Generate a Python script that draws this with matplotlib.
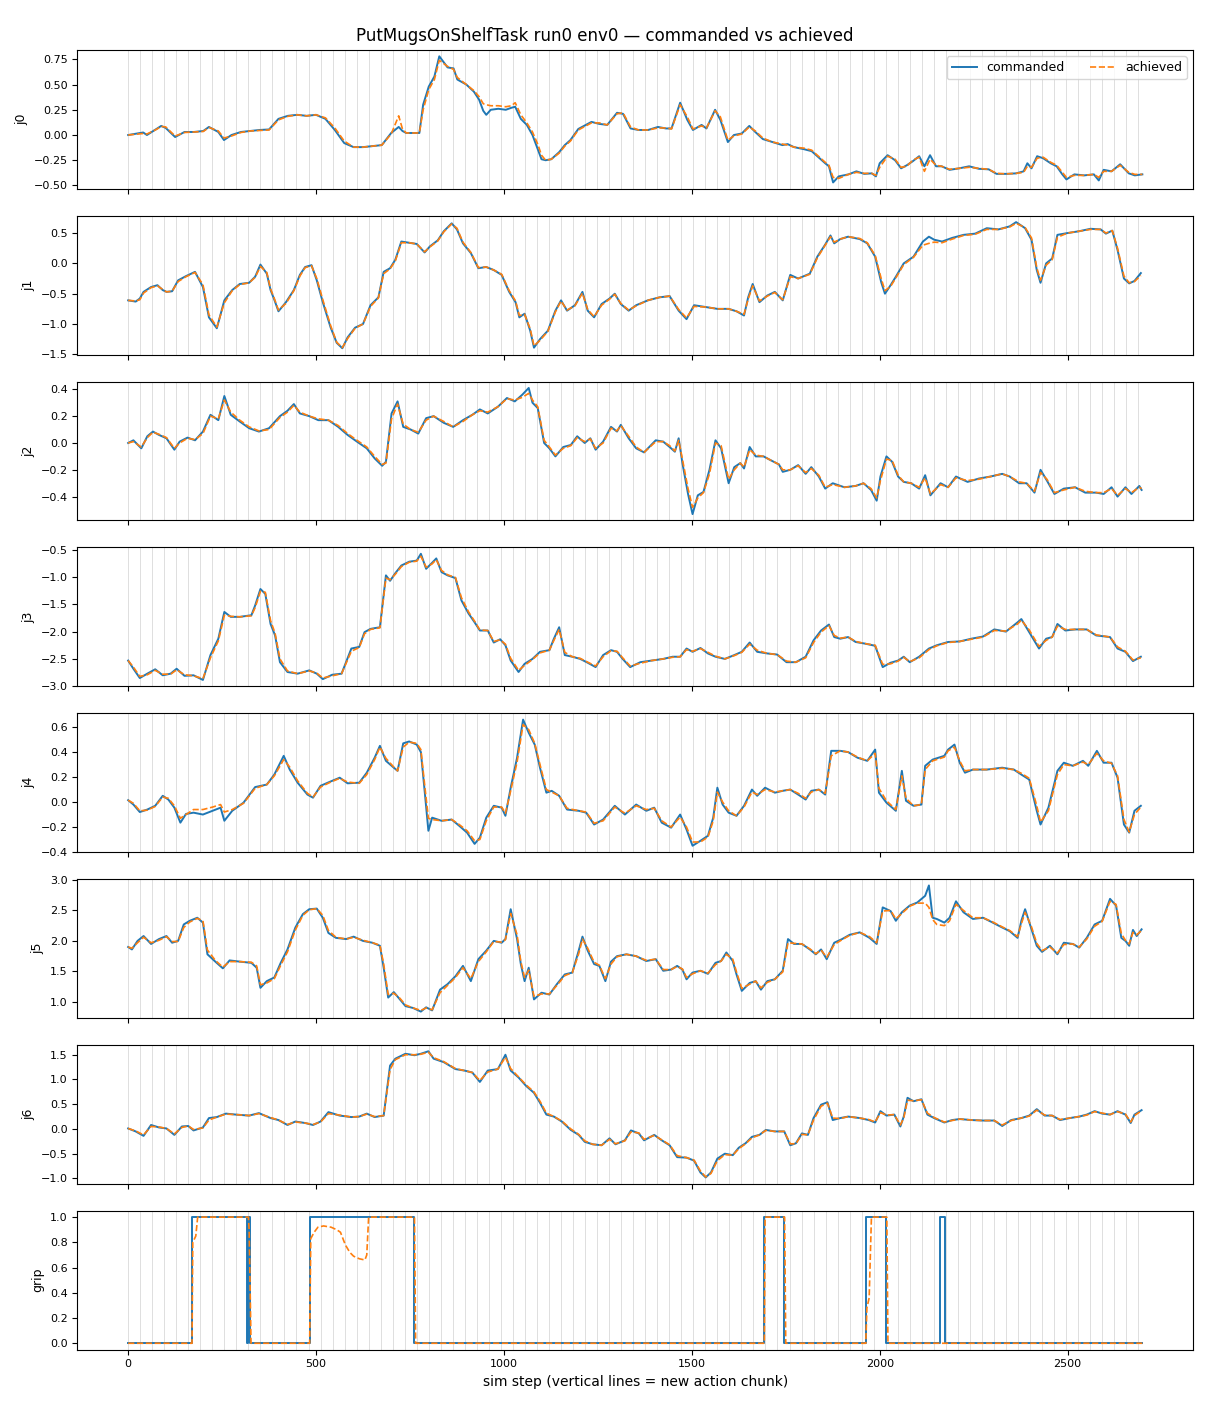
import matplotlib
matplotlib.use("Agg")
import matplotlib.pyplot as plt

TITLE = "PutMugsOnShelfTask run0 env0 \u2014 commanded vs achieved"
XLABEL = "sim step (vertical lines = new action chunk)"
CHUNK = 32
LAST_STEP = 2699

# ---- j0 ----
j0_steps = [0, 25, 40, 50, 75, 88, 100, 125, 150, 175,
            200, 215, 240, 255, 275, 300, 325, 350, 375, 400,
            425, 450, 475, 500, 525, 550, 575, 600, 625, 650,
            675, 700, 720, 730, 740, 775, 785, 800, 815, 828,
            850, 866, 876, 900, 920, 934, 945, 953, 965, 985,
            1005, 1020, 1030, 1045, 1061, 1076, 1091, 1100, 1111, 1126,
            1147, 1162, 1177, 1198, 1218, 1233, 1254, 1275, 1301, 1317,
            1337, 1358, 1384, 1410, 1431, 1446, 1469, 1488, 1503, 1526,
            1539, 1562, 1576, 1596, 1612, 1633, 1653, 1669, 1689, 1715,
            1741, 1755, 1772, 1798, 1819, 1834, 1855, 1865, 1876, 1891,
            1917, 1938, 1959, 1979, 1990, 2000, 2021, 2041, 2057, 2072,
            2088, 2105, 2119, 2134, 2150, 2165, 2186, 2212, 2238, 2264,
            2290, 2311, 2337, 2363, 2383, 2393, 2404, 2419, 2435, 2455,
            2471, 2486, 2497, 2518, 2544, 2570, 2583, 2596, 2617, 2640,
            2663, 2679, 2699]
j0_cmd = [0.00, 0.015, 0.025, 0.00, 0.06, 0.09, 0.07, -0.02, 0.03, 0.03,
          0.04, 0.08, 0.03, -0.05, 0.00, 0.03, 0.04, 0.05, 0.055, 0.16,
          0.19, 0.20, 0.19, 0.20, 0.16, 0.05, -0.08, -0.12, -0.12, -0.11,
          -0.10, 0.02, 0.08, 0.04, 0.02, 0.02, 0.30, 0.48, 0.58, 0.78,
          0.67, 0.66, 0.55, 0.50, 0.43, 0.35, 0.24, 0.20, 0.25, 0.26,
          0.25, 0.27, 0.28, 0.16, 0.10, 0.00, -0.15, -0.24, -0.25, -0.24,
          -0.17, -0.10, -0.05, 0.06, 0.10, 0.13, 0.11, 0.10, 0.22, 0.21,
          0.065, 0.05, 0.05, 0.08, 0.065, 0.065, 0.32, 0.15, 0.05, 0.10,
          0.065, 0.25, 0.15, -0.07, 0.00, 0.015, 0.09, 0.03, -0.04, -0.07,
          -0.10, -0.09, -0.12, -0.14, -0.16, -0.21, -0.28, -0.31, -0.47, -0.41,
          -0.39, -0.36, -0.385, -0.38, -0.41, -0.28, -0.20, -0.25, -0.33, -0.30,
          -0.26, -0.21, -0.31, -0.20, -0.31, -0.31, -0.345, -0.33, -0.31, -0.335,
          -0.34, -0.385, -0.385, -0.38, -0.36, -0.28, -0.33, -0.21, -0.23, -0.28,
          -0.31, -0.39, -0.44, -0.39, -0.40, -0.39, -0.45, -0.345, -0.36, -0.29,
          -0.38, -0.40, -0.39]
j0_ach = [0.00, 0.01, 0.015, 0.01, 0.055, 0.085, 0.08, -0.01, 0.025, 0.03,
          0.035, 0.075, 0.04, -0.03, -0.01, 0.025, 0.04, 0.045, 0.05, 0.15,
          0.185, 0.20, 0.19, 0.20, 0.17, 0.07, -0.06, -0.12, -0.12, -0.11,
          -0.10, 0.01, 0.19, 0.06, 0.02, 0.02, 0.25, 0.45, 0.55, 0.74,
          0.68, 0.65, 0.57, 0.50, 0.44, 0.38, 0.31, 0.30, 0.29, 0.29,
          0.28, 0.29, 0.32, 0.20, 0.12, 0.03, -0.10, -0.20, -0.25, -0.24,
          -0.18, -0.11, -0.06, 0.05, 0.09, 0.12, 0.12, 0.10, 0.21, 0.22,
          0.08, 0.05, 0.05, 0.07, 0.07, 0.06, 0.30, 0.18, 0.06, 0.09,
          0.07, 0.24, 0.18, -0.05, -0.01, 0.01, 0.08, 0.04, -0.03, -0.07,
          -0.09, -0.10, -0.12, -0.13, -0.15, -0.20, -0.27, -0.30, -0.42, -0.43,
          -0.39, -0.37, -0.38, -0.38, -0.40, -0.32, -0.21, -0.24, -0.32, -0.31,
          -0.25, -0.22, -0.36, -0.24, -0.30, -0.31, -0.34, -0.33, -0.32, -0.33,
          -0.34, -0.38, -0.385, -0.38, -0.37, -0.31, -0.32, -0.23, -0.22, -0.27,
          -0.30, -0.37, -0.42, -0.40, -0.40, -0.39, -0.42, -0.36, -0.36, -0.30,
          -0.37, -0.39, -0.39]

# ---- j1 ----
j1_steps = [0, 20, 31, 41, 61, 78, 92, 102, 117, 133,
            154, 178, 199, 215, 236, 256, 277, 297, 322, 338,
            352, 369, 379, 389, 400, 420, 441, 457, 471, 488,
            502, 518, 539, 555, 570, 584, 604, 625, 645, 666,
            680, 697, 711, 727, 748, 768, 789, 803, 824, 840,
            861, 875, 891, 912, 932, 953, 973, 994, 1014, 1031,
            1041, 1055, 1070, 1080, 1096, 1117, 1137, 1152, 1168, 1189,
            1209, 1223, 1240, 1260, 1281, 1295, 1311, 1332, 1352, 1383,
            1414, 1441, 1465, 1486, 1506, 1537, 1568, 1598, 1619, 1639,
            1650, 1662, 1680, 1701, 1721, 1742, 1762, 1783, 1814, 1834,
            1855, 1869, 1879, 1895, 1916, 1947, 1967, 1988, 2004, 2014,
            2029, 2043, 2064, 2090, 2115, 2131, 2145, 2166, 2193, 2223,
            2254, 2285, 2316, 2346, 2363, 2387, 2404, 2418, 2428, 2443,
            2459, 2473, 2500, 2531, 2561, 2588, 2602, 2619, 2633, 2650,
            2664, 2678, 2695]
j1_cmd = [-0.61, -0.63, -0.58, -0.47, -0.39, -0.36, -0.44, -0.47, -0.46, -0.28,
          -0.21, -0.14, -0.39, -0.89, -1.07, -0.61, -0.44, -0.34, -0.32, -0.22,
          -0.02, -0.17, -0.44, -0.60, -0.79, -0.64, -0.44, -0.19, -0.06, -0.03,
          -0.28, -0.64, -1.06, -1.31, -1.40, -1.22, -1.06, -1.00, -0.69, -0.56,
          -0.14, -0.08, 0.06, 0.36, 0.34, 0.32, 0.18, 0.28, 0.38, 0.53,
          0.66, 0.56, 0.33, 0.17, -0.08, -0.06, -0.11, -0.19, -0.47, -0.64,
          -0.89, -0.83, -1.11, -1.39, -1.25, -1.11, -0.78, -0.61, -0.78, -0.69,
          -0.47, -0.78, -0.89, -0.67, -0.58, -0.50, -0.67, -0.78, -0.69, -0.61,
          -0.56, -0.54, -0.78, -0.92, -0.69, -0.72, -0.75, -0.75, -0.79, -0.86,
          -0.56, -0.34, -0.64, -0.53, -0.47, -0.61, -0.19, -0.25, -0.17, 0.11,
          0.31, 0.46, 0.33, 0.40, 0.44, 0.40, 0.33, 0.11, -0.31, -0.50,
          -0.36, -0.22, 0.00, 0.11, 0.36, 0.44, 0.39, 0.36, 0.42, 0.47,
          0.49, 0.58, 0.56, 0.61, 0.68, 0.58, 0.39, -0.11, -0.32, 0.00,
          0.08, 0.47, 0.50, 0.53, 0.57, 0.56, 0.49, 0.54, 0.22, -0.25,
          -0.33, -0.29, -0.16]
j1_ach = [-0.61, -0.62, -0.60, -0.49, -0.40, -0.37, -0.43, -0.47, -0.46, -0.30,
          -0.22, -0.15, -0.35, -0.85, -1.05, -0.65, -0.45, -0.35, -0.32, -0.23,
          -0.05, -0.15, -0.42, -0.58, -0.77, -0.66, -0.45, -0.21, -0.07, -0.04,
          -0.25, -0.60, -1.03, -1.30, -1.39, -1.24, -1.07, -1.00, -0.71, -0.57,
          -0.17, -0.09, 0.04, 0.34, 0.34, 0.32, 0.19, 0.27, 0.37, 0.52,
          0.65, 0.58, 0.35, 0.18, -0.07, -0.06, -0.11, -0.18, -0.45, -0.62,
          -0.86, -0.84, -1.08, -1.36, -1.27, -1.12, -0.80, -0.62, -0.77, -0.70,
          -0.49, -0.76, -0.88, -0.69, -0.59, -0.51, -0.66, -0.77, -0.70, -0.61,
          -0.56, -0.54, -0.76, -0.90, -0.71, -0.72, -0.75, -0.75, -0.79, -0.84,
          -0.59, -0.37, -0.62, -0.54, -0.48, -0.60, -0.22, -0.25, -0.18, 0.09,
          0.30, 0.44, 0.35, 0.40, 0.44, 0.41, 0.34, 0.13, -0.25, -0.45,
          -0.38, -0.24, -0.02, 0.10, 0.30, 0.33, 0.35, 0.34, 0.40, 0.46,
          0.48, 0.56, 0.56, 0.60, 0.66, 0.59, 0.42, -0.07, -0.28, -0.03,
          0.06, 0.43, 0.50, 0.53, 0.56, 0.56, 0.50, 0.54, 0.25, -0.21,
          -0.32, -0.30, -0.20]

# ---- j2 ----
j2_steps = [0, 14, 35, 51, 66, 82, 102, 123, 137, 158,
            178, 199, 219, 240, 256, 273, 297, 322, 348, 375,
            404, 424, 441, 457, 482, 506, 533, 559, 584, 609,
            635, 656, 676, 686, 701, 717, 732, 752, 772, 793,
            813, 840, 865, 891, 916, 936, 957, 984, 1008, 1029,
            1049, 1066, 1076, 1090, 1107, 1121, 1137, 1158, 1178, 1195,
            1215, 1230, 1244, 1264, 1285, 1301, 1311, 1332, 1352, 1373,
            1404, 1424, 1441, 1455, 1465, 1475, 1490, 1502, 1516, 1531,
            1547, 1563, 1578, 1598, 1613, 1629, 1639, 1654, 1670, 1691,
            1711, 1732, 1742, 1762, 1783, 1803, 1818, 1838, 1855, 1875,
            1906, 1936, 1957, 1977, 1992, 2002, 2018, 2033, 2049, 2064,
            2084, 2105, 2121, 2135, 2162, 2182, 2203, 2234, 2264, 2295,
            2326, 2346, 2371, 2391, 2412, 2428, 2445, 2465, 2490, 2520,
            2547, 2576, 2596, 2617, 2633, 2654, 2670, 2691, 2697]
j2_cmd = [0.0, 0.02, -0.04, 0.05, 0.085, 0.06, 0.035, -0.05, 0.01, 0.04,
          0.02, 0.085, 0.21, 0.17, 0.35, 0.21, 0.16, 0.11, 0.085, 0.11,
          0.20, 0.24, 0.29, 0.22, 0.20, 0.17, 0.17, 0.12, 0.06, 0.01,
          -0.04, -0.115, -0.17, -0.14, 0.22, 0.31, 0.12, 0.10, 0.07, 0.185,
          0.20, 0.15, 0.12, 0.17, 0.21, 0.25, 0.22, 0.27, 0.335, 0.31,
          0.36, 0.41, 0.30, 0.26, 0.0, -0.04, -0.10, -0.03, -0.015, 0.05,
          0.0, 0.035, -0.05, 0.01, 0.12, 0.085, 0.135, 0.035, -0.04, -0.07,
          0.02, 0.01, -0.03, -0.065, 0.035, -0.15, -0.38, -0.53, -0.39, -0.365,
          -0.20, 0.02, -0.04, -0.30, -0.18, -0.15, -0.19, -0.03, -0.10, -0.10,
          -0.13, -0.16, -0.215, -0.20, -0.165, -0.23, -0.18, -0.25, -0.34, -0.30,
          -0.33, -0.32, -0.30, -0.35, -0.43, -0.25, -0.10, -0.14, -0.25, -0.29,
          -0.30, -0.34, -0.24, -0.39, -0.30, -0.33, -0.25, -0.29, -0.265, -0.25,
          -0.23, -0.25, -0.30, -0.30, -0.37, -0.20, -0.28, -0.38, -0.34, -0.33,
          -0.37, -0.37, -0.38, -0.33, -0.40, -0.33, -0.38, -0.32, -0.35]
j2_ach = [0.0, 0.01, -0.03, 0.04, 0.08, 0.065, 0.04, -0.04, 0.0, 0.035,
          0.025, 0.07, 0.20, 0.18, 0.32, 0.23, 0.17, 0.12, 0.09, 0.10,
          0.19, 0.23, 0.28, 0.23, 0.20, 0.18, 0.17, 0.13, 0.07, 0.02,
          -0.03, -0.10, -0.16, -0.15, 0.18, 0.29, 0.14, 0.10, 0.08, 0.17,
          0.20, 0.16, 0.12, 0.16, 0.21, 0.24, 0.23, 0.27, 0.33, 0.32,
          0.34, 0.37, 0.32, 0.27, 0.02, -0.03, -0.09, -0.04, -0.02, 0.04,
          0.01, 0.03, -0.04, 0.0, 0.11, 0.09, 0.13, 0.05, -0.03, -0.07,
          0.01, 0.01, -0.02, -0.06, 0.02, -0.12, -0.34, -0.48, -0.41, -0.37,
          -0.23, 0.0, -0.02, -0.27, -0.20, -0.15, -0.18, -0.05, -0.09, -0.10,
          -0.13, -0.16, -0.20, -0.20, -0.17, -0.22, -0.19, -0.24, -0.33, -0.31,
          -0.33, -0.32, -0.30, -0.34, -0.41, -0.28, -0.12, -0.13, -0.24, -0.29,
          -0.30, -0.33, -0.26, -0.38, -0.31, -0.33, -0.26, -0.28, -0.27, -0.25,
          -0.23, -0.25, -0.29, -0.30, -0.36, -0.22, -0.27, -0.37, -0.35, -0.33,
          -0.36, -0.37, -0.37, -0.34, -0.39, -0.34, -0.37, -0.33, -0.34]

# ---- j3 ----
j3_steps = [0, 14, 31, 51, 72, 92, 113, 129, 150, 174,
            199, 219, 240, 256, 273, 297, 328, 338, 352, 365,
            379, 391, 404, 424, 451, 482, 502, 518, 543, 568,
            594, 615, 629, 645, 670, 686, 697, 711, 727, 748,
            768, 779, 793, 809, 820, 834, 850, 871, 887, 906,
            922, 936, 957, 973, 990, 1004, 1018, 1039, 1055, 1076,
            1096, 1121, 1133, 1147, 1162, 1182, 1203, 1223, 1244, 1264,
            1285, 1301, 1316, 1336, 1363, 1393, 1424, 1449, 1469, 1486,
            1502, 1523, 1543, 1563, 1588, 1613, 1633, 1654, 1674, 1701,
            1727, 1752, 1777, 1803, 1824, 1844, 1865, 1879, 1895, 1916,
            1936, 1961, 1988, 2008, 2029, 2049, 2064, 2080, 2105, 2131,
            2152, 2182, 2213, 2244, 2275, 2305, 2336, 2367, 2377, 2398,
            2424, 2443, 2459, 2473, 2494, 2520, 2551, 2576, 2613, 2633,
            2654, 2674, 2695]
j3_cmd = [-2.53, -2.68, -2.85, -2.77, -2.69, -2.80, -2.77, -2.68, -2.81, -2.80,
          -2.885, -2.43, -2.13, -1.64, -1.73, -1.73, -1.70, -1.52, -1.22, -1.31,
          -1.86, -2.07, -2.56, -2.74, -2.77, -2.71, -2.77, -2.87, -2.79, -2.77,
          -2.31, -2.28, -2.01, -1.95, -1.92, -0.97, -1.07, -0.93, -0.79, -0.72,
          -0.70, -0.575, -0.85, -0.74, -0.66, -0.91, -0.97, -1.02, -1.43, -1.67,
          -1.83, -1.98, -1.98, -2.20, -2.14, -2.25, -2.53, -2.74, -2.59, -2.50,
          -2.37, -2.34, -2.13, -1.92, -2.43, -2.46, -2.50, -2.57, -2.65, -2.43,
          -2.34, -2.37, -2.50, -2.65, -2.56, -2.53, -2.50, -2.46, -2.46, -2.31,
          -2.37, -2.30, -2.40, -2.46, -2.50, -2.43, -2.37, -2.20, -2.37, -2.40,
          -2.42, -2.56, -2.56, -2.46, -2.16, -1.98, -1.87, -2.10, -2.13, -2.10,
          -2.19, -2.22, -2.26, -2.65, -2.57, -2.53, -2.46, -2.56, -2.46, -2.31,
          -2.25, -2.19, -2.18, -2.13, -2.09, -1.96, -2.00, -1.83, -1.77, -2.01,
          -2.31, -2.13, -2.10, -1.86, -1.98, -1.96, -1.96, -2.07, -2.10, -2.31,
          -2.37, -2.54, -2.46]
j3_ach = [-2.53, -2.65, -2.82, -2.79, -2.71, -2.78, -2.78, -2.70, -2.79, -2.81,
          -2.86, -2.48, -2.17, -1.70, -1.72, -1.73, -1.71, -1.56, -1.26, -1.28,
          -1.80, -2.03, -2.50, -2.72, -2.77, -2.72, -2.76, -2.85, -2.81, -2.77,
          -2.36, -2.29, -2.04, -1.96, -1.93, -1.02, -1.05, -0.95, -0.81, -0.73,
          -0.71, -0.62, -0.82, -0.76, -0.68, -0.88, -0.96, -1.01, -1.38, -1.64,
          -1.81, -1.97, -1.98, -2.18, -2.15, -2.23, -2.49, -2.71, -2.62, -2.51,
          -2.39, -2.34, -2.16, -1.96, -2.38, -2.46, -2.49, -2.56, -2.63, -2.46,
          -2.35, -2.36, -2.48, -2.63, -2.58, -2.53, -2.50, -2.47, -2.46, -2.33,
          -2.36, -2.31, -2.38, -2.45, -2.50, -2.44, -2.38, -2.23, -2.34, -2.40,
          -2.42, -2.54, -2.56, -2.48, -2.20, -2.01, -1.89, -2.07, -2.12, -2.10,
          -2.18, -2.22, -2.25, -2.60, -2.59, -2.54, -2.47, -2.55, -2.48, -2.33,
          -2.26, -2.20, -2.18, -2.14, -2.10, -1.98, -1.99, -1.86, -1.79, -1.97,
          -2.27, -2.16, -2.10, -1.90, -1.96, -1.96, -1.96, -2.06, -2.10, -2.28,
          -2.36, -2.52, -2.48]

# ---- j4 ----
j4_steps = [0, 14, 31, 51, 72, 92, 107, 123, 139, 154,
            174, 199, 225, 246, 256, 277, 307, 338, 369, 389,
            414, 430, 451, 477, 492, 512, 539, 563, 584, 615,
            635, 656, 670, 686, 707, 717, 732, 748, 768, 779,
            789, 799, 809, 834, 861, 881, 902, 922, 936, 953,
            973, 994, 1004, 1018, 1035, 1051, 1066, 1082, 1096, 1113,
            1127, 1147, 1168, 1199, 1219, 1240, 1264, 1295, 1322, 1352,
            1379, 1400, 1420, 1445, 1469, 1486, 1502, 1523, 1543, 1557,
            1568, 1582, 1598, 1619, 1639, 1660, 1674, 1695, 1721, 1742,
            1762, 1783, 1803, 1818, 1838, 1855, 1871, 1895, 1916, 1941,
            1967, 1988, 1998, 2018, 2043, 2059, 2070, 2090, 2111, 2121,
            2141, 2172, 2182, 2199, 2213, 2227, 2248, 2285, 2326, 2357,
            2377, 2398, 2418, 2428, 2449, 2473, 2490, 2514, 2541, 2555,
            2578, 2596, 2617, 2633, 2650, 2664, 2678, 2695]
j4_cmd = [0.015, -0.02, -0.08, -0.06, -0.03, 0.05, 0.02, -0.045, -0.165, -0.095,
          -0.085, -0.10, -0.07, -0.045, -0.15, -0.07, -0.005, 0.12, 0.14, 0.22,
          0.37, 0.26, 0.155, 0.06, 0.035, 0.13, 0.165, 0.195, 0.15, 0.155,
          0.235, 0.355, 0.45, 0.33, 0.275, 0.25, 0.47, 0.485, 0.46, 0.40,
          0.09, -0.23, -0.125, -0.15, -0.14, -0.19, -0.245, -0.335, -0.285, -0.125,
          -0.03, -0.045, -0.11, 0.115, 0.355, 0.66, 0.555, 0.46, 0.275, 0.075,
          0.09, 0.05, -0.06, -0.07, -0.085, -0.18, -0.14, -0.03, -0.10, -0.02,
          -0.07, -0.045, -0.165, -0.205, -0.10, -0.22, -0.35, -0.31, -0.27, -0.125,
          0.115, -0.02, -0.085, -0.11, -0.03, 0.10, 0.05, 0.115, 0.075, 0.09,
          0.10, 0.06, 0.02, 0.09, 0.10, 0.06, 0.41, 0.41, 0.40, 0.355,
          0.33, 0.42, 0.075, -0.005, -0.07, 0.25, 0.01, -0.03, -0.02, 0.29,
          0.34, 0.37, 0.42, 0.46, 0.315, 0.235, 0.26, 0.26, 0.275, 0.26,
          0.22, 0.18, -0.07, -0.18, -0.045, 0.25, 0.315, 0.29, 0.33, 0.29,
          0.41, 0.315, 0.315, 0.195, -0.18, -0.245, -0.07, -0.03]
j4_ach = [0.015, -0.01, -0.07, -0.065, -0.035, 0.04, 0.03, -0.03, -0.13, -0.10,
          -0.06, -0.06, -0.04, -0.02, -0.08, -0.06, -0.01, 0.11, 0.14, 0.21,
          0.34, 0.28, 0.17, 0.07, 0.04, 0.12, 0.16, 0.19, 0.16, 0.15,
          0.22, 0.34, 0.44, 0.35, 0.28, 0.25, 0.44, 0.48, 0.47, 0.42,
          0.14, -0.13, -0.14, -0.15, -0.14, -0.18, -0.23, -0.31, -0.30, -0.15,
          -0.04, -0.04, -0.09, 0.09, 0.32, 0.62, 0.58, 0.47, 0.30, 0.10,
          0.08, 0.05, -0.05, -0.07, -0.08, -0.17, -0.15, -0.04, -0.09, -0.03,
          -0.06, -0.05, -0.15, -0.20, -0.12, -0.20, -0.32, -0.32, -0.28, -0.15,
          0.08, 0.0, -0.07, -0.11, -0.04, 0.08, 0.06, 0.10, 0.08, 0.09,
          0.10, 0.07, 0.03, 0.08, 0.10, 0.07, 0.37, 0.41, 0.40, 0.36,
          0.33, 0.39, 0.11, 0.01, -0.06, 0.21, 0.03, -0.03, -0.02, 0.26,
          0.33, 0.36, 0.41, 0.44, 0.33, 0.25, 0.26, 0.26, 0.27, 0.26,
          0.23, 0.19, -0.03, -0.16, -0.07, 0.22, 0.30, 0.29, 0.32, 0.30,
          0.39, 0.33, 0.31, 0.21, -0.14, -0.24, -0.10, -0.04]

# ---- j5 ----
j5_steps = [0, 10, 25, 41, 61, 82, 102, 117, 133, 148,
            164, 184, 199, 211, 232, 252, 270, 297, 328, 342,
            352, 369, 389, 406, 424, 445, 465, 482, 502, 518,
            533, 553, 580, 600, 625, 650, 670, 680, 692, 707,
            723, 738, 758, 779, 793, 809, 830, 850, 871, 891,
            912, 932, 953, 973, 994, 1004, 1018, 1035, 1045, 1055,
            1066, 1080, 1100, 1121, 1141, 1162, 1182, 1199, 1209, 1223,
            1240, 1254, 1270, 1285, 1301, 1326, 1352, 1379, 1404, 1424,
            1445, 1461, 1475, 1486, 1502, 1523, 1543, 1563, 1578, 1592,
            1609, 1619, 1633, 1654, 1670, 1684, 1701, 1721, 1742, 1756,
            1772, 1793, 1814, 1830, 1844, 1859, 1879, 1900, 1920, 1947,
            1973, 1992, 2008, 2029, 2043, 2059, 2080, 2100, 2121, 2131,
            2141, 2152, 2172, 2186, 2203, 2223, 2248, 2275, 2301, 2326,
            2346, 2367, 2377, 2387, 2404, 2418, 2432, 2453, 2473, 2490,
            2514, 2531, 2551, 2572, 2592, 2613, 2629, 2643, 2654, 2664,
            2674, 2684, 2697]
j5_cmd = [1.90, 1.86, 2.00, 2.08, 1.95, 2.03, 2.08, 1.97, 2.00, 2.27,
          2.33, 2.38, 2.30, 1.78, 1.66, 1.55, 1.68, 1.66, 1.64, 1.56,
          1.23, 1.34, 1.40, 1.64, 1.86, 2.22, 2.44, 2.52, 2.53, 2.38,
          2.13, 2.05, 2.03, 2.07, 2.00, 1.97, 1.92, 1.56, 1.07, 1.16,
          1.04, 0.93, 0.90, 0.84, 0.91, 0.86, 1.20, 1.29, 1.42, 1.59,
          1.34, 1.70, 1.84, 2.00, 1.97, 2.03, 2.52, 2.03, 1.62, 1.34,
          1.56, 1.04, 1.15, 1.12, 1.29, 1.45, 1.48, 1.84, 2.07, 1.84,
          1.62, 1.59, 1.34, 1.66, 1.75, 1.78, 1.75, 1.67, 1.70, 1.51,
          1.53, 1.59, 1.53, 1.37, 1.48, 1.51, 1.46, 1.64, 1.67, 1.81,
          1.67, 1.45, 1.18, 1.31, 1.34, 1.20, 1.34, 1.37, 1.51, 2.03,
          1.95, 1.95, 1.86, 1.78, 1.86, 1.70, 1.97, 2.03, 2.10, 2.14,
          2.05, 1.95, 2.55, 2.49, 2.33, 2.47, 2.58, 2.63, 2.74, 2.91,
          2.38, 2.36, 2.30, 2.38, 2.65, 2.47, 2.36, 2.38, 2.30, 2.22,
          2.16, 2.05, 2.33, 2.52, 2.19, 1.92, 1.82, 1.92, 1.78, 1.97,
          1.95, 1.89, 2.05, 2.27, 2.33, 2.69, 2.58, 2.05, 2.00, 1.92,
          2.18, 2.08, 2.19]
j5_ach = [1.90, 1.88, 1.97, 2.06, 1.97, 2.01, 2.07, 1.99, 1.99, 2.22,
          2.31, 2.37, 2.33, 1.85, 1.68, 1.57, 1.66, 1.66, 1.65, 1.59,
          1.28, 1.31, 1.38, 1.60, 1.82, 2.18, 2.42, 2.51, 2.53, 2.42,
          2.17, 2.06, 2.03, 2.06, 2.01, 1.97, 1.93, 1.62, 1.12, 1.14,
          1.06, 0.95, 0.90, 0.86, 0.90, 0.87, 1.15, 1.27, 1.40, 1.56,
          1.38, 1.66, 1.82, 1.99, 1.98, 2.02, 2.45, 2.10, 1.66, 1.40,
          1.52, 1.09, 1.13, 1.13, 1.27, 1.43, 1.48, 1.79, 2.03, 1.88,
          1.65, 1.60, 1.38, 1.62, 1.74, 1.78, 1.75, 1.68, 1.70, 1.53,
          1.53, 1.58, 1.54, 1.40, 1.46, 1.51, 1.47, 1.61, 1.67, 1.78,
          1.70, 1.49, 1.22, 1.29, 1.34, 1.23, 1.32, 1.37, 1.49, 1.97,
          1.96, 1.95, 1.87, 1.79, 1.85, 1.73, 1.94, 2.02, 2.09, 2.14,
          2.07, 1.97, 2.49, 2.50, 2.36, 2.45, 2.57, 2.62, 2.62, 2.55,
          2.35, 2.27, 2.25, 2.33, 2.60, 2.50, 2.38, 2.38, 2.31, 2.23,
          2.17, 2.07, 2.28, 2.47, 2.23, 1.96, 1.84, 1.90, 1.80, 1.94,
          1.95, 1.90, 2.03, 2.24, 2.32, 2.65, 2.60, 2.12, 2.01, 1.95,
          2.14, 2.10, 2.17]

# ---- j6 ----
j6_steps = [0, 20, 41, 61, 82, 102, 123, 143, 160, 174,
            199, 215, 236, 260, 287, 322, 348, 379, 400, 424,
            445, 471, 492, 512, 533, 563, 594, 615, 635, 656,
            680, 697, 711, 738, 762, 779, 799, 813, 840, 871,
            895, 916, 936, 957, 984, 1004, 1018, 1039, 1059, 1080,
            1096, 1113, 1133, 1154, 1178, 1199, 1215, 1236, 1260, 1281,
            1297, 1322, 1338, 1359, 1373, 1400, 1420, 1441, 1461, 1486,
            1506, 1523, 1537, 1551, 1568, 1588, 1609, 1625, 1643, 1660,
            1680, 1697, 1721, 1746, 1762, 1777, 1793, 1809, 1824, 1844,
            1861, 1875, 1895, 1916, 1947, 1971, 1988, 2002, 2018, 2039,
            2055, 2064, 2074, 2090, 2111, 2127, 2145, 2172, 2193, 2213,
            2244, 2275, 2305, 2326, 2350, 2377, 2398, 2418, 2439, 2459,
            2480, 2506, 2531, 2551, 2572, 2592, 2613, 2633, 2654, 2668,
            2678, 2697]
j6_cmd = [0.01, -0.05, -0.14, 0.08, 0.03, 0.01, -0.12, 0.05, 0.06, -0.03,
          0.03, 0.22, 0.24, 0.31, 0.29, 0.27, 0.32, 0.22, 0.18, 0.08,
          0.15, 0.12, 0.08, 0.15, 0.34, 0.27, 0.24, 0.25, 0.31, 0.24,
          0.27, 1.28, 1.42, 1.52, 1.49, 1.52, 1.57, 1.42, 1.35, 1.21,
          1.18, 1.14, 0.95, 1.18, 1.21, 1.50, 1.18, 1.04, 0.87, 0.73,
          0.53, 0.29, 0.25, 0.15, -0.02, -0.12, -0.26, -0.31, -0.33, -0.19,
          -0.31, -0.23, -0.03, -0.09, -0.23, -0.12, -0.23, -0.33, -0.57, -0.58,
          -0.64, -0.88, -0.98, -0.88, -0.60, -0.50, -0.53, -0.38, -0.29, -0.16,
          -0.12, -0.02, -0.05, -0.05, -0.33, -0.29, -0.09, -0.12, 0.22, 0.49,
          0.54, 0.18, 0.22, 0.25, 0.22, 0.18, 0.13, 0.36, 0.27, 0.29,
          0.05, 0.25, 0.63, 0.56, 0.60, 0.29, 0.22, 0.13, 0.18, 0.20,
          0.18, 0.17, 0.17, 0.06, 0.18, 0.22, 0.27, 0.40, 0.27, 0.27,
          0.18, 0.22, 0.25, 0.29, 0.36, 0.31, 0.29, 0.36, 0.29, 0.12,
          0.29, 0.38]
j6_ach = [0.01, -0.04, -0.12, 0.05, 0.04, 0.01, -0.10, 0.03, 0.06, -0.01,
          0.02, 0.18, 0.24, 0.30, 0.29, 0.27, 0.31, 0.23, 0.18, 0.09,
          0.14, 0.12, 0.09, 0.14, 0.31, 0.28, 0.24, 0.25, 0.30, 0.25,
          0.27, 1.20, 1.40, 1.50, 1.50, 1.51, 1.55, 1.44, 1.36, 1.22,
          1.18, 1.14, 0.98, 1.15, 1.21, 1.45, 1.22, 1.05, 0.89, 0.75,
          0.56, 0.32, 0.25, 0.16, 0.0, -0.11, -0.24, -0.31, -0.33, -0.21,
          -0.30, -0.24, -0.06, -0.08, -0.21, -0.13, -0.22, -0.32, -0.54, -0.58,
          -0.63, -0.85, -0.97, -0.90, -0.64, -0.52, -0.53, -0.40, -0.30, -0.18,
          -0.12, -0.03, -0.05, -0.05, -0.30, -0.30, -0.11, -0.12, 0.18, 0.46,
          0.52, 0.22, 0.21, 0.25, 0.22, 0.19, 0.14, 0.33, 0.28, 0.29,
          0.08, 0.22, 0.58, 0.57, 0.59, 0.32, 0.23, 0.14, 0.17, 0.20,
          0.18, 0.17, 0.17, 0.08, 0.17, 0.22, 0.26, 0.38, 0.28, 0.27,
          0.19, 0.22, 0.25, 0.28, 0.35, 0.32, 0.29, 0.35, 0.30, 0.14,
          0.27, 0.37]

# ---- gripper ----
grip_cmd_steps = [0, 170, 316, 318, 324, 483, 761, 1693, 1746, 1963, 2018, 2161, 2175, 2699]
grip_cmd = [0, 1, 0, 1, 0, 1, 0, 1, 0, 1, 0, 1, 0, 0]
grip_ach_steps = [0, 170, 172, 180, 185, 320, 322, 327, 483, 486,
                  495, 505, 520, 540, 555, 565, 578, 590, 600, 615,
                  630, 635, 640, 762, 765, 1693, 1695, 1747, 1750, 1963,
                  1966, 1972, 1978, 2019, 2022, 2699]
grip_ach = [0, 0, 0.80, 0.85, 1.0, 1.0, 0.9, 0.0, 0.0, 0.83,
            0.88, 0.92, 0.93, 0.92, 0.90, 0.88, 0.78, 0.72, 0.69, 0.67,
            0.66, 0.70, 1.0, 1.0, 0.0, 0.0, 1.0, 1.0, 0.0, 0.0,
            0.28, 0.36, 1.0, 1.0, 0.0, 0.0]

joints = [
    ("j0", j0_steps, j0_cmd, j0_ach),
    ("j1", j1_steps, j1_cmd, j1_ach),
    ("j2", j2_steps, j2_cmd, j2_ach),
    ("j3", j3_steps, j3_cmd, j3_ach),
    ("j4", j4_steps, j4_cmd, j4_ach),
    ("j5", j5_steps, j5_cmd, j5_ach),
    ("j6", j6_steps, j6_cmd, j6_ach),
]

fig, axes = plt.subplots(8, 1, figsize=(12.1, 14.08), dpi=100, sharex=True)
fig.subplots_adjust(left=0.064, right=0.986, top=0.9645, bottom=0.0415, hspace=0.195)

chunk_starts = list(range(0, LAST_STEP, CHUNK))


def draw_chunks(ax):
    for s in chunk_starts:
        ax.axvline(s, color="#d9d9d9", linewidth=0.6, zorder=0)


for ax, (name, steps, cmd, ach) in zip(axes[:7], joints):
    draw_chunks(ax)
    ax.plot(steps, cmd, color="#1f77b4", linewidth=1.4, label="commanded")
    ax.plot(steps, ach, color="#ff7f0e", linewidth=1.2, linestyle="--", label="achieved")
    ax.set_ylabel(name, fontsize=9)
    ax.tick_params(labelsize=8)

ax = axes[7]
draw_chunks(ax)
ax.plot(grip_cmd_steps, grip_cmd, color="#1f77b4", linewidth=1.4, drawstyle="steps-post")
ax.plot(grip_ach_steps, grip_ach, color="#ff7f0e", linewidth=1.2, linestyle="--")
ax.set_ylabel("grip", fontsize=9)
ax.tick_params(labelsize=8)
ax.set_xlabel(XLABEL, fontsize=10)

axes[0].legend(loc="upper right", ncol=2, fontsize=9)
fig.suptitle(TITLE, fontsize=12, y=0.9745, va="center")

fig.savefig("out.png", dpi=100)
